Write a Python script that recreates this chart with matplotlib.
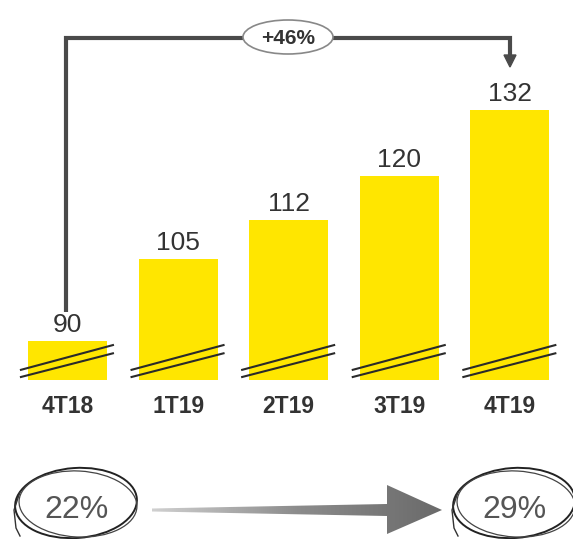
import matplotlib
matplotlib.use("Agg")
import matplotlib.pyplot as plt
import numpy as np
from matplotlib.patches import Ellipse, Polygon
from matplotlib.colors import LinearSegmentedColormap

plt.rcParams['font.family'] = ['Liberation Sans', 'DejaVu Sans']

categories = ["4T18", "1T19", "2T19", "3T19", "4T19"]
values = [90, 105, 112, 120, 132]
growth_label = "+46%"
share_start = "22%"
share_end = "29%"

W, H = 573, 539
fig = plt.figure(figsize=(W / 100, H / 100), dpi=100)

# bar axes: bottom at pixel 380, top at pixel 0
ax = fig.add_axes([0, (H - 380) / H, 1, 380 / H])
ymin = 83
ppu = 5.5
ax.set_ylim(ymin, ymin + 380 / ppu)
sp = 110.6
x0 = 67.5
ax.set_xlim(-x0 / sp, (W - x0) / sp)
ax.axis('off')

yellow = "#FFE600"
x = np.arange(len(categories))
ax.bar(x, [v - ymin for v in values], bottom=ymin, width=0.714, color=yellow, zorder=2)

for i, (c, v) in enumerate(zip(categories, values)):
    ax.annotate(str(v), xy=(i, v), xytext=(0, 6.5), textcoords='offset points',
                ha='center', va='baseline', fontsize=19, color='#333333')
    ax.annotate(c, xy=(i, ymin), xytext=(0, -19), textcoords='offset points',
                ha='center', va='center', fontsize=16.5, fontweight='bold', color='#333333',
                annotation_clip=False)
    # break marks
    for yl, yr in [(84.8, 89.4), (83.5, 87.9)]:
        ax.plot([i - 0.43, i + 0.42], [yl, yr], color='#2a2a2a', lw=1.5, zorder=3,
                solid_capstyle='butt', clip_on=False)

# overlay axes in pixel coordinates for annotations
ov = fig.add_axes([0, 0, 1, 1], zorder=5)
ov.axis('off')
ov.patch.set_alpha(0)

# top connector
lc = '#4a4a4a'
ov.plot([66, 66, 510, 510], [312, 38, 38, 56], color=lc, lw=3, solid_joinstyle='miter',
        solid_capstyle='butt')
ov.add_patch(Polygon([[504, 55], [516, 55], [510, 67]], closed=True, color=lc))
ov.add_patch(Ellipse((288, 37), 90, 34, facecolor='white', edgecolor='#888888', lw=1.2, zorder=6))
ov.text(288, 38, growth_label, ha='center', va='center', fontsize=15, fontweight='bold',
        color='#333333', zorder=7)

# bottom gradient arrow (tapered shaft)
arrow_poly = [[152, 508.5], [387, 504], [387, 485], [442, 510], [387, 534], [387, 516], [152, 511.5]]
poly = Polygon(arrow_poly, closed=True, facecolor='none', edgecolor='none')
ov.add_patch(poly)
grad = np.linspace(0, 1, 256).reshape(1, -1)
cmap = LinearSegmentedColormap.from_list('g', ['#d0d0d0', '#8c8c8c', '#6a6a6a'])
im = ov.imshow(grad, extent=[152, 442, 540, 480], cmap=cmap, aspect='auto', zorder=4)
im.set_clip_path(poly)
ov.set_xlim(0, W)
ov.set_ylim(H, 0)

# hand-drawn ellipses with labels
for cx, txt in [(76, share_start), (514, share_end)]:
    ov.add_patch(Ellipse((cx, 503), 122, 70, angle=-4, fill=False, edgecolor='#222222', lw=1.4))
    ov.add_patch(Ellipse((cx + 2, 504), 118, 66, angle=3, fill=False, edgecolor='#444444', lw=0.9))
    ov.plot([cx - 56, cx - 62, cx - 60, cx - 56], [492, 510, 528, 536], color='#333333', lw=1.0)
    ov.text(cx, 510, txt, ha='center', va='center', fontsize=23, color='#555555')

fig.savefig("out.png", dpi=100)
